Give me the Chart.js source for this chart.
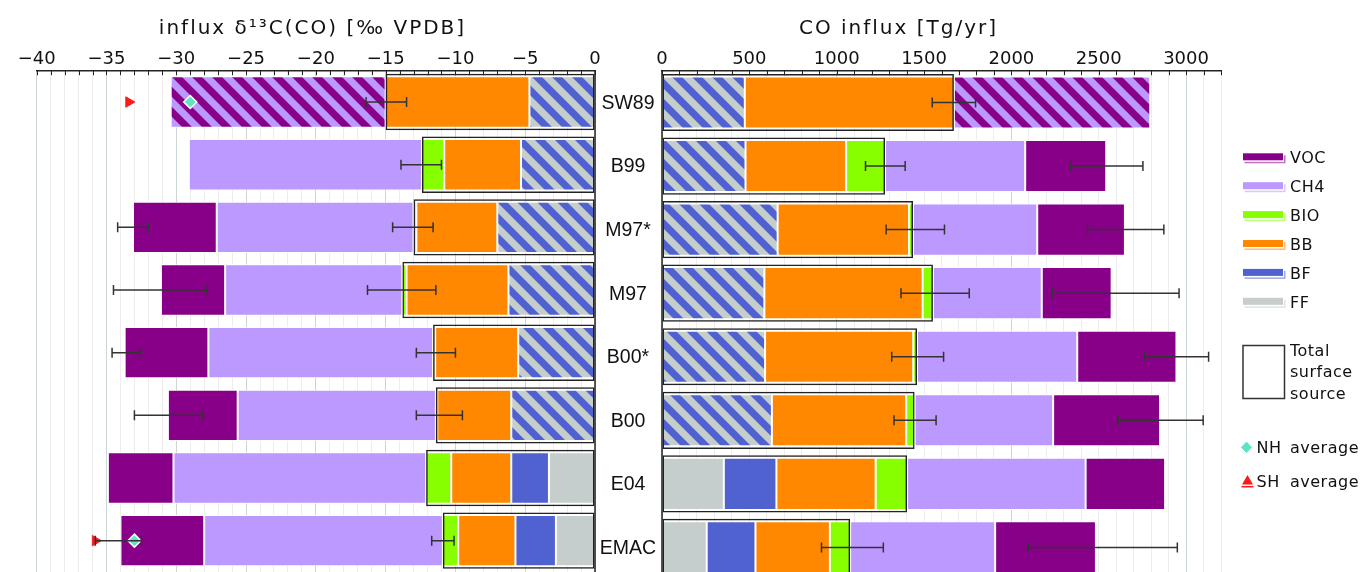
<!DOCTYPE html>
<html>
<head>
<meta charset="utf-8">
<script src="https://cdn.jsdelivr.net/npm/chart.js@4.4.0/dist/chart.umd.min.js"></script>
<style>
  html, body { margin: 0; padding: 0; background: #fff; overflow: hidden; }
  #wrap { position: relative; width: 1361px; height: 572px; overflow: hidden; }
  #leftChart { position: absolute; left: 0; top: 0; }
  #rightChart { position: absolute; left: 600px; top: 0; }
</style>
</head>
<body>
<div id="wrap">
  <canvas id="leftChart" width="612" height="580"></canvas>
  <canvas id="rightChart" width="761" height="580"></canvas>
</div>
<script>
const categories = ["SW89", "B99", "M97*", "M97", "B00*", "B00", "E04", "EMAC"];

// left panel: contribution of each source to the influx d13C (permil VPDB)
const d13FF = [0, 0, 0, 0, 0, 0, -3.3, -2.8];
const d13BF = [0, 0, 0, 0, 0, 0, -2.7, -2.9];
const d13FFBF = [-4.7, -5.3, -7.0, -6.2, -5.5, -6.0, 0, 0]; // FF+BF not split (hatched)
const d13BB = [-10.3, -5.5, -5.8, -7.3, -5.95, -5.3, -4.3, -4.1];
const d13BIO = [0, -1.6, -0.2, -0.3, -0.15, -0.1, -1.8, -1.1];
const d13CH4 = [0, -16.7, -14.1, -12.7, -16.1, -14.2, -18.1, -17.1];
const d13VOC = [0, 0, -6.0, -4.6, -6.0, -5.0, -4.7, -6.0];
const d13CH4VOC = [-15.4, 0, 0, 0, 0, 0, 0, 0]; // CH4+VOC not split (hatched)

// left panel error bars (surface source and total) and hemispheric averages
const d13SurfErrLo = [-16.4, -13.9, -14.5, -16.3, -12.8, -12.8, null, -11.7];
const d13SurfErrHi = [-13.5, -11.0, -11.6, -11.4, -10.0, -9.5, null, -10.1];
const d13TotErrLo = [null, null, -34.2, -34.5, -34.6, -33.0, null, -35.8];
const d13TotErrHi = [null, null, -32.0, -27.8, -32.6, -28.1, null, -32.5];
const d13NH = [-29.0, null, null, null, null, null, null, -33.0];
const d13SH = [-33.4, null, null, null, null, null, null, -35.8];

// right panel: CO influx per source (Tg/yr)
const coFF = [0, 0, 0, 0, 0, 0, 354, 256];
const coBF = [0, 0, 0, 0, 0, 0, 301, 279];
const coFFBF = [474, 478, 662, 586, 590, 629, 0, 0];
const coBB = [1197, 576, 752, 906, 848, 769, 568, 426];
const coBIO = [0, 223, 23, 59, 22, 48, 180, 116];
const coCH4 = [0, 802, 711, 623, 917, 793, 1022, 830];
const coVOC = [0, 464, 502, 400, 568, 612, 455, 577];
const coCH4VOC = [1124, 0, 0, 0, 0, 0, 0, 0];

const coSurfErrLo = [1547, 1165, 1283, 1368, 1315, 1328, null, 913];
const coSurfErrHi = [1795, 1392, 1617, 1759, 1612, 1569, null, 1267];
const coTotErrLo = [null, 2338, 2436, 2235, 2764, 2611, null, 2097];
const coTotErrHi = [null, 2753, 2873, 2960, 3129, 3098, null, 2950];

const legendNames = ["VOC", "CH4", "BIO", "BB", "BF", "FF"];

const colors = {
  VOC: "#870087",
  CH4: "#bb99ff",
  BIO: "#88ff00",
  BB: "#ff8800",
  BF: "#5061d0",
  FF: "#c5cdcd",
};

//diagonal stripes for the sources that are not split
const stripes = (ctx, c1, c2) => {
  const t = document.createElement("canvas");
  t.width = 20;
  t.height = 20;
  const g = t.getContext("2d");
  g.fillStyle = c1;
  g.fillRect(0, 0, 20, 20);
  g.fillStyle = c2;
  [-20, 0, 20].forEach((c) => {
    g.beginPath();
    g.moveTo(0, c - 5);
    g.lineTo(20, c + 15);
    g.lineTo(20, c + 25);
    g.lineTo(0, c + 5);
    g.closePath();
    g.fill();
  });
  return ctx.createPattern(t, "repeat");
};

//turn the per source values into floating [start, end] bars
const stackUp = (parts) => {
  const start = categories.map(() => 0);
  return parts.map((arr) =>
    arr.map((v, i) => {
      if (!v) return null;
      const s = start[i];
      start[i] += v;
      return [s, start[i]];
    })
  );
};

const surfaceTotal = (ff, bf, ffbf, bb, bio) =>
  categories.map((c, i) => ff[i] + bf[i] + ffbf[i] + bb[i] + bio[i]);

const buildDatasets = (ctx, v) => {
  const fossil = stripes(ctx, colors.FF, colors.BF);
  const natural = stripes(ctx, colors.CH4, colors.VOC);
  const stacked = stackUp([v.ff, v.bf, v.ffbf, v.bb, v.bio, v.ch4, v.voc, v.ch4voc]);
  const fills = [colors.FF, colors.BF, fossil, colors.BB, colors.BIO, colors.CH4, colors.VOC, natural];
  const names = ["FF", "BF", "FF+BF", "BB", "BIO", "CH4", "VOC", "CH4+VOC"];
  const sets = stacked.map((data, k) => ({
    label: names[k],
    data,
    backgroundColor: fills[k],
    borderColor: "#ffffff",
    borderWidth: 1,
    borderSkipped: false,
    grouped: false,
    barPercentage: 0.82,
    categoryPercentage: 1,
    order: 3,
  }));
  const surf = surfaceTotal(v.ff, v.bf, v.ffbf, v.bb, v.bio);
  sets.push({
    label: "Total surface source",
    data: surf.map((s) => [0, s]),
    backgroundColor: "rgba(0,0,0,0)",
    borderColor: "#222222",
    borderWidth: 1.5,
    borderSkipped: false,
    grouped: false,
    barPercentage: 0.9,
    categoryPercentage: 1,
    order: 2,
  });
  return sets;
};

const fmt = (v) => (v < 0 ? "\u2212" + Math.abs(v) : String(v));

//points for the markers, skipping rows without a value
const markerPoints = (arr) =>
  arr.map((v, i) => ({ x: v, y: categories[i] })).filter((p) => p.x !== null);

//short tick marks pointing into the plot, and the frame line next to the labels
const axisMarks = {
  id: "axisMarks",
  afterDraw(chart, args, opts) {
    const { ctx, chartArea } = chart;
    const x = chart.scales.x;
    ctx.save();
    ctx.strokeStyle = "#222";
    ctx.lineWidth = 1;
    x.ticks.forEach((t) => {
      const px = Math.round(x.getPixelForValue(t.value)) + 0.5;
      ctx.beginPath();
      ctx.moveTo(px, chartArea.top);
      ctx.lineTo(px, chartArea.top + 4.5);
      ctx.stroke();
    });
    ctx.lineWidth = 1.5;
    const fx = opts.side === "right" ? chartArea.right : chartArea.left;
    ctx.beginPath();
    ctx.moveTo(fx, chartArea.top);
    ctx.lineTo(fx, chartArea.bottom);
    ctx.stroke();
    // panel title
    ctx.font = '20px "DejaVu Sans"';
    ctx.fillStyle = "#111";
    ctx.textAlign = "center";
    ctx.textBaseline = "alphabetic";
    ctx.letterSpacing = "2px";
    ctx.fillText(opts.title, opts.titleX, 34);
    ctx.restore();
  },
};

const errorBars = {
  id: "errorBars",
  afterDatasetsDraw(chart, args, opts) {
    const { ctx } = chart;
    const x = chart.scales.x;
    const y = chart.scales.y;
    ctx.save();
    ctx.strokeStyle = "#333";
    ctx.lineWidth = 1.5;
    opts.ranges.forEach(([lo, hi]) => {
      categories.forEach((c, i) => {
        if (lo[i] === null || hi[i] === null) return;
        const py = y.getPixelForValue(i);
        const x0 = x.getPixelForValue(lo[i]);
        const x1 = x.getPixelForValue(hi[i]);
        ctx.beginPath();
        ctx.moveTo(x0, py);
        ctx.lineTo(x1, py);
        ctx.moveTo(x0, py - 5);
        ctx.lineTo(x0, py + 5);
        ctx.moveTo(x1, py - 5);
        ctx.lineTo(x1, py + 5);
        ctx.stroke();
      });
    });
    ctx.restore();
  },
};

//category names between the panels and the legend on the right
const sideText = {
  id: "sideText",
  afterDraw(chart) {
    const { ctx, chartArea } = chart;
    const y = chart.scales.y;
    ctx.save();
    ctx.fillStyle = "#111";
    ctx.textAlign = "center";
    ctx.textBaseline = "middle";
    ctx.font = '19.5px "Liberation Sans"';
    categories.forEach((c, i) => {
      ctx.fillText(c, chartArea.left - 34, y.getPixelForValue(i) + 1);
    });

    const lx = chartArea.right + 22;
    const tx = lx + 47;
    ctx.textAlign = "left";
    ctx.font = '16px "DejaVu Sans"';
    ctx.letterSpacing = "0.5px";
    legendNames.forEach((name, k) => {
      const cy = 158.3 + k * 28.9;
      ctx.globalAlpha = 0.55;
      ctx.fillStyle = colors[name];
      ctx.fillRect(lx + 1.5, cy - 3, 41, 8);
      ctx.globalAlpha = 1;
      ctx.fillStyle = "#fff";
      ctx.fillRect(lx, cy - 5, 41, 8.5);
      ctx.fillStyle = colors[name];
      ctx.fillRect(lx, cy - 5, 40, 7);
      ctx.fillStyle = "#111";
      ctx.fillText(name, tx, cy + 1);
    });

    ctx.strokeStyle = "#333";
    ctx.lineWidth = 1.5;
    ctx.strokeRect(lx, 345.5, 41.5, 53);
    ctx.fillText("Total", tx, 351.5);
    ctx.fillText("surface", tx, 373);
    ctx.fillText("source", tx, 395);

    // hemispheric average symbols
    const dx = lx + 3.5;
    ctx.fillStyle = "#62e3c4";
    ctx.strokeStyle = "#fff";
    ctx.lineWidth = 1;
    ctx.beginPath();
    ctx.moveTo(dx, 441);
    ctx.lineTo(dx + 6, 447.3);
    ctx.lineTo(dx, 453.6);
    ctx.lineTo(dx - 6, 447.3);
    ctx.closePath();
    ctx.fill();
    ctx.stroke();
    ctx.fillStyle = "#ff1a1a";
    ctx.beginPath();
    ctx.moveTo(dx + 1, 475);
    ctx.lineTo(dx + 6.5, 484.5);
    ctx.lineTo(dx - 4.5, 484.5);
    ctx.closePath();
    ctx.fill();
    ctx.fillRect(dx - 5, 486, 12, 1.5);
    ctx.fillStyle = "#111";
    ctx.fillText("NH", dx + 10, 448.5);
    ctx.fillText("average", tx, 448.5);
    ctx.fillText("SH", dx + 10, 482.5);
    ctx.fillText("average", tx, 482.5);
    ctx.restore();
  },
};

const axisOptions = (min, max, step, labelEvery, majorEvery) => ({
  type: "linear",
  position: "top",
  min,
  max,
  afterFit: (s) => {
    s.height = 70.7;
  },
  ticks: {
    stepSize: step,
    autoSkip: false,
    maxRotation: 0,
    padding: 1,
    color: "#111",
    font: { family: "DejaVu Sans", size: 18 },
    callback: (v) => (v % labelEvery === 0 && v <= 3000 ? fmt(v) : ""),
  },
  grid: {
    drawTicks: false,
    lineWidth: 1,
    color: (c) => (c.tick && c.tick.value % majorEvery === 0 ? "#cdd6d6" : "#ededed"),
  },
  border: { display: true, color: "#222", width: 1.5 },
});

// ---- left panel: isotopic signature ----
const leftCtx = document.getElementById("leftChart").getContext("2d");
const leftSets = buildDatasets(leftCtx, {
  ff: d13FF, bf: d13BF, ffbf: d13FFBF, bb: d13BB, bio: d13BIO,
  ch4: d13CH4, voc: d13VOC, ch4voc: d13CH4VOC,
});
leftSets.push({
  type: "scatter",
  label: "NH average",
  data: markerPoints(d13NH),
  pointStyle: "rectRot",
  radius: 6.5,
  backgroundColor: "#62e3c4",
  borderColor: "#ffffff",
  borderWidth: 1.5,
  order: 1,
});
leftSets.push({
  type: "scatter",
  label: "SH average",
  data: markerPoints(d13SH),
  pointStyle: "triangle",
  rotation: 90,
  radius: 6,
  backgroundColor: "#ff1a1a",
  borderColor: "#ff1a1a",
  borderWidth: 1,
  order: 1,
});

new Chart(leftCtx, {
  type: "bar",
  data: { labels: categories, datasets: leftSets },
  plugins: [axisMarks, errorBars],
  options: {
    indexAxis: "y",
    responsive: false,
    animation: false,
    layout: { padding: { left: 36.7, right: 17, top: 0, bottom: 0.8 } },
    plugins: {
      legend: { display: false },
      tooltip: { enabled: false },
      axisMarks: { side: "right", title: "influx \u03b4\u00b9\u00b3C(CO) [\u2030 VPDB]", titleX: 312.5 },
      errorBars: { ranges: [[d13SurfErrLo, d13SurfErrHi], [d13TotErrLo, d13TotErrHi]] },
    },
    scales: {
      x: axisOptions(-40, 0, 1, 5, 5),
      y: { type: "category", display: false, offset: true },
    },
  },
});

// ---- right panel: CO influx ----
const rightCtx = document.getElementById("rightChart").getContext("2d");
const rightSets = buildDatasets(rightCtx, {
  ff: coFF, bf: coBF, ffbf: coFFBF, bb: coBB, bio: coBIO,
  ch4: coCH4, voc: coVOC, ch4voc: coCH4VOC,
});

new Chart(rightCtx, {
  type: "bar",
  data: { labels: categories, datasets: rightSets },
  plugins: [axisMarks, errorBars, sideText],
  options: {
    indexAxis: "y",
    responsive: false,
    animation: false,
    layout: { padding: { left: 62, right: 140, top: 0, bottom: 0.8 } },
    plugins: {
      legend: { display: false },
      tooltip: { enabled: false },
      axisMarks: { side: "left", title: "CO influx [Tg/yr]", titleX: 298.5 },
      errorBars: { ranges: [[coSurfErrLo, coSurfErrHi], [coTotErrLo, coTotErrHi]] },
    },
    scales: {
      x: axisOptions(0, 3200, 100, 500, 1000),
      y: { type: "category", display: false, offset: true },
    },
  },
});
</script>
</body>
</html>
